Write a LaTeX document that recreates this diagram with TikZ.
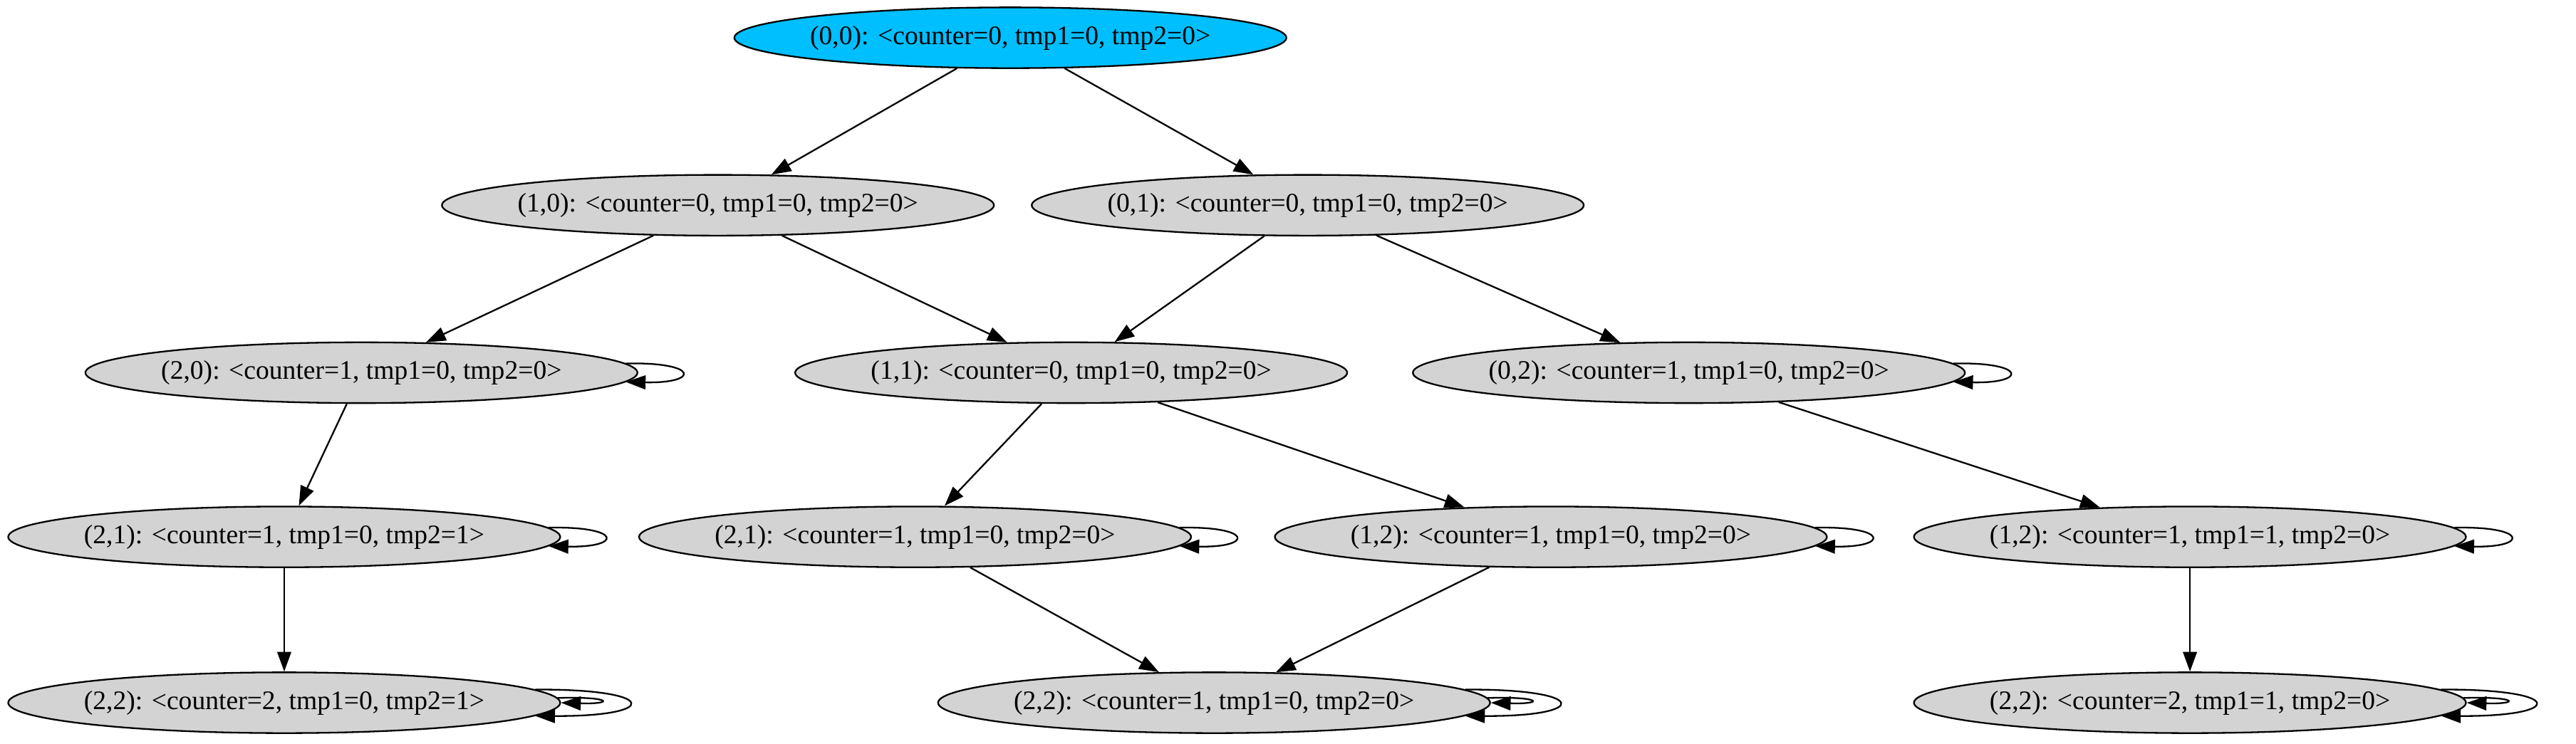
\documentclass[tikz,border=0pt]{standalone}
\usepackage{fontspec}
\setmainfont{Liberation Serif}
\usetikzlibrary{arrows.meta, shapes.geometric}
\definecolor{initblue}{HTML}{00BFFF}
\definecolor{stategray}{HTML}{D3D3D3}

\begin{document}
\begin{tikzpicture}[x=1pt, y=1pt,
        state/.style={ellipse, draw, line width=1pt, fill=stategray, minimum width=336pt, minimum height=37pt,
            inner xsep=-4pt, inner ysep=0pt, font=\fontsize{16.3}{19}\selectfont},
        initstate/.style={state, fill=initblue},
        trans/.style={line width=1pt, -{Triangle[length=12pt, width=8.5pt]}}]
            \useasboundingbox (0,0) rectangle (1568,453);
            % states, row by row
            \node[initstate] (n00) at (615,430) {(0,0): <counter=0, tmp1=0, tmp2=0>};
            \node[state] (n10) at (437,328) {(1,0): <counter=0, tmp1=0, tmp2=0>};
            \node[state] (n01) at (796,328) {(0,1): <counter=0, tmp1=0, tmp2=0>};
            \node[state] (n20) at (220,226) {(2,0): <counter=1, tmp1=0, tmp2=0>};
            \node[state] (n11) at (652,226) {(1,1): <counter=0, tmp1=0, tmp2=0>};
            \node[state] (n02) at (1028,226) {(0,2): <counter=1, tmp1=0, tmp2=0>};
            \node[state] (n21a) at (173,126) {(2,1): <counter=1, tmp1=0, tmp2=1>};
            \node[state] (n21b) at (557,126) {(2,1): <counter=1, tmp1=0, tmp2=0>};
            \node[state] (n12a) at (944,126) {(1,2): <counter=1, tmp1=0, tmp2=0>};
            \node[state] (n12b) at (1333,126) {(1,2): <counter=1, tmp1=1, tmp2=0>};
            \node[state] (n22a) at (173,25) {(2,2): <counter=2, tmp1=0, tmp2=1>};
            \node[state] (n22b) at (739,25) {(2,2): <counter=1, tmp1=0, tmp2=0>};
            \node[state] (n22c) at (1333,25) {(2,2): <counter=2, tmp1=1, tmp2=0>};

            % transitions
            \draw[trans] (n00) -- (n10);
            \draw[trans] (n00) -- (n01);
            \draw[trans] (n10) -- (n20);
            \draw[trans] (n10) -- (n11);
            \draw[trans] (n01) -- (n11);
            \draw[trans] (n01) -- (n02);
            \draw[trans] (n20) -- (n21a);
            \draw[trans] (n11) -- (n21b);
            \draw[trans] (n11) -- (n12a);
            \draw[trans] (n02) -- (n12b);
            \draw[trans] (n21a) -- (n22a);
            \draw[trans] (n21b) -- (n22b);
            \draw[trans] (n12a) -- (n22b);
            \draw[trans] (n12b) -- (n22c);

            % self loops
            \draw[trans] (n20.2.7) .. controls +(45,1) and +(45,-1) .. (n20.-2.9);
            \draw[trans] (n02.2.7) .. controls +(45,1) and +(45,-1) .. (n02.-2.9);
            \draw[trans] (n21a.2.7) .. controls +(45,1) and +(45,-1) .. (n21a.-2.9);
            \draw[trans] (n21b.2.7) .. controls +(45,1) and +(45,-1) .. (n21b.-2.9);
            \draw[trans] (n12a.2.7) .. controls +(45,1) and +(45,-1) .. (n12a.-2.9);
            \draw[trans] (n12b.2.7) .. controls +(45,1) and +(45,-1) .. (n12b.-2.9);
            \draw[trans] (n22a.1.4) .. controls +(33,1) and +(33,-1) .. (n22a.-0.9);
            \draw[trans] (n22a.3.3) .. controls +(76,0.5) and +(76,-0.5) .. (n22a.-3.3);
            \draw[trans] (n22b.1.4) .. controls +(33,1) and +(33,-1) .. (n22b.-0.9);
            \draw[trans] (n22b.3.3) .. controls +(76,0.5) and +(76,-0.5) .. (n22b.-3.3);
            \draw[trans] (n22c.1.4) .. controls +(33,1) and +(33,-1) .. (n22c.-0.9);
            \draw[trans] (n22c.3.3) .. controls +(76,0.5) and +(76,-0.5) .. (n22c.-3.3);
        \end{tikzpicture}
\end{document}
